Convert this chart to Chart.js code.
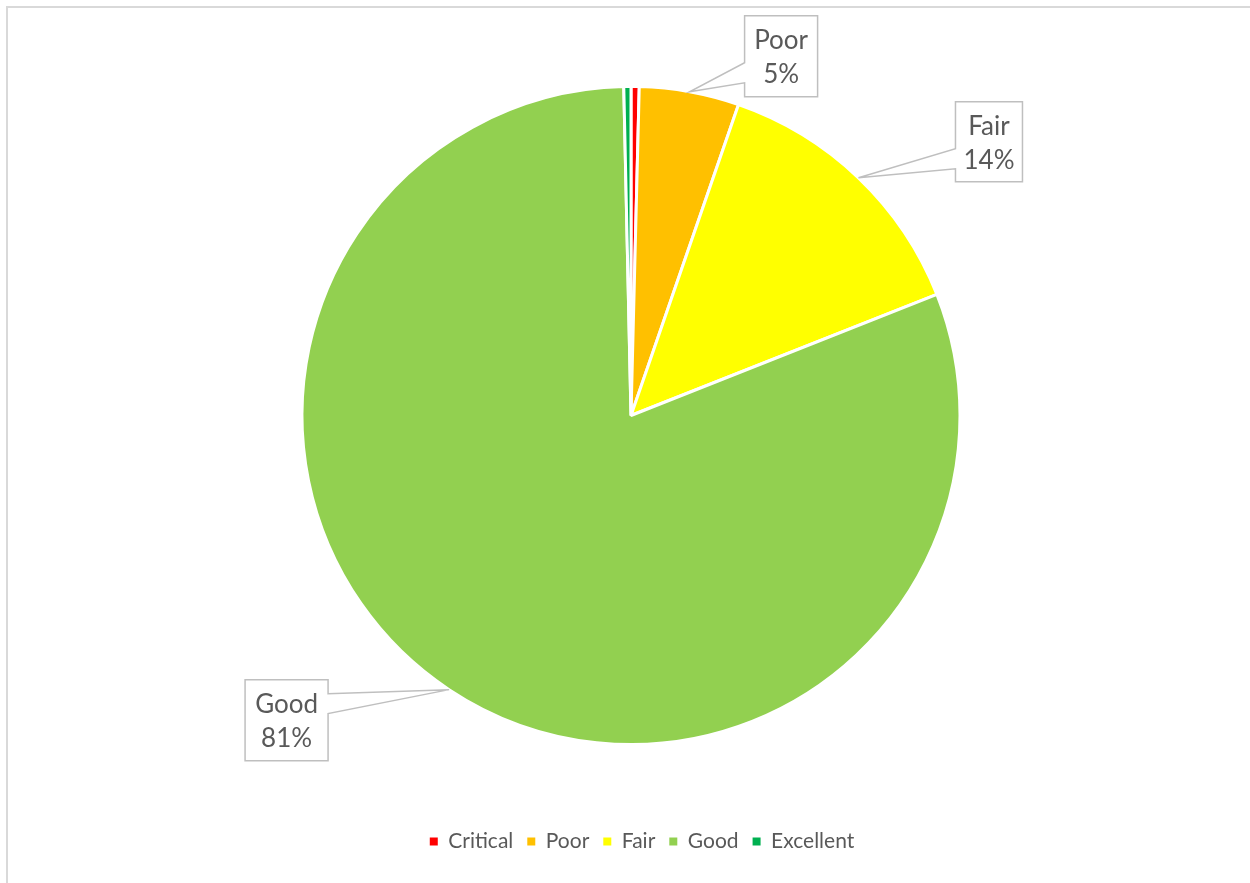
<!DOCTYPE html>
<html>
<head>
<meta charset="utf-8">
<script src="https://cdn.jsdelivr.net/npm/chart.js@4.4.0/dist/chart.umd.min.js"></script>
<style>
  html, body { margin: 0; padding: 0; background: #fff; overflow: hidden; }
  .frame { position: absolute; left: 6px; top: 6px; width: 1300px; height: 1000px; border: 2px solid #d9d9d9; }
  .wrap { position: absolute; left: 0; top: 0; width: 1250px; height: 883px; }
</style>
</head>
<body>
<div class="frame"></div>
<div class="wrap"><canvas id="chart" width="1250" height="883"></canvas></div>
<script>
const categories = ["Critical", "Poor", "Fair", "Good", "Excellent"];
const shares = [0.4, 4.9, 13.7, 80.65, 0.35];
const sliceColors = ["#ff0000", "#ffc000", "#ffff00", "#92d050", "#00b050"];
const labelled = ["Poor", "Fair", "Good"];

// callout boxes, placed relative to the slice's outer mid point
const calloutLayout = {
  Poor: { dx: 55, dy: -76, w: 73, h: 81, side: "left", base: [47, 67] },
  Fair: { dx: 97, dy: -76, w: 67, h: 80, side: "left", base: [47, 67] },
  Good: { dx: -204, dy: -10, w: 83, h: 81, side: "right", base: [14, 34] }
};

const textColor = "#595959";
const fontFamily = "Lato, 'Open Sans', sans-serif";

const callouts = {
  id: "callouts",
  afterDatasetsDraw(chart) {
    const ctx = chart.ctx;
    const meta = chart.getDatasetMeta(0);
    const total = shares.reduce((a, b) => a + b, 0);
    meta.data.forEach((arc, i) => {
      const name = categories[i];
      if (!labelled.includes(name)) return;
      const lay = calloutLayout[name];
      const mid = (arc.startAngle + arc.endAngle) / 2;
      const ax = arc.x + Math.cos(mid) * arc.outerRadius;
      const ay = arc.y + Math.sin(mid) * arc.outerRadius;
      const left = ax + lay.dx;
      const top = ay + lay.dy;
      const right = left + lay.w;
      const bottom = top + lay.h;

      ctx.save();
      ctx.beginPath();
      if (lay.side === "left") {
        ctx.moveTo(left, top);
        ctx.lineTo(right, top);
        ctx.lineTo(right, bottom);
        ctx.lineTo(left, bottom);
        ctx.lineTo(left, top + lay.base[1]);
        ctx.lineTo(ax, ay);
        ctx.lineTo(left, top + lay.base[0]);
      } else {
        ctx.moveTo(left, top);
        ctx.lineTo(right, top);
        ctx.lineTo(right, top + lay.base[0]);
        ctx.lineTo(ax, ay);
        ctx.lineTo(right, top + lay.base[1]);
        ctx.lineTo(right, bottom);
        ctx.lineTo(left, bottom);
      }
      ctx.closePath();
      ctx.fillStyle = "#ffffff";
      ctx.fill();
      ctx.strokeStyle = "#bfbfbf";
      ctx.lineWidth = 1.5;
      ctx.stroke();

      ctx.fillStyle = textColor;
      ctx.font = "26px " + fontFamily;
      ctx.textAlign = "center";
      ctx.textBaseline = "alphabetic";
      const cx = left + lay.w / 2;
      ctx.fillText(name, cx, top + 33);
      ctx.fillText(Math.round(shares[i] / total * 100) + "%", cx, top + 67);
      ctx.restore();
    });
  }
};

// the legend sits a little right of the pie centre in the original
const legendShift = {
  id: "legendShift",
  afterLayout(chart) {
    chart.legend.left += 11;
    chart.legend.right += 11;
  }
};

new Chart(document.getElementById("chart"), {
  type: "pie",
  data: {
    labels: categories,
    datasets: [{
      data: shares,
      backgroundColor: sliceColors,
      borderColor: "#ffffff",
      borderWidth: 3
    }]
  },
  options: {
    responsive: false,
    animation: false,
    radius: 329,
    layout: { padding: { top: 14, bottom: 21, left: 12, right: 0 } },
    plugins: {
      tooltip: { enabled: false },
      legend: {
        position: "bottom",
        labels: {
          boxWidth: 8,
          boxHeight: 8,
          padding: 14,
          color: textColor,
          font: { family: fontFamily, size: 21 },
          generateLabels: (chart) => Chart.overrides.pie.plugins.legend.labels
            .generateLabels(chart)
            .map((item) => ({ ...item, lineWidth: 0 }))
        }
      }
    }
  },
  plugins: [callouts, legendShift]
});
</script>
</body>
</html>
